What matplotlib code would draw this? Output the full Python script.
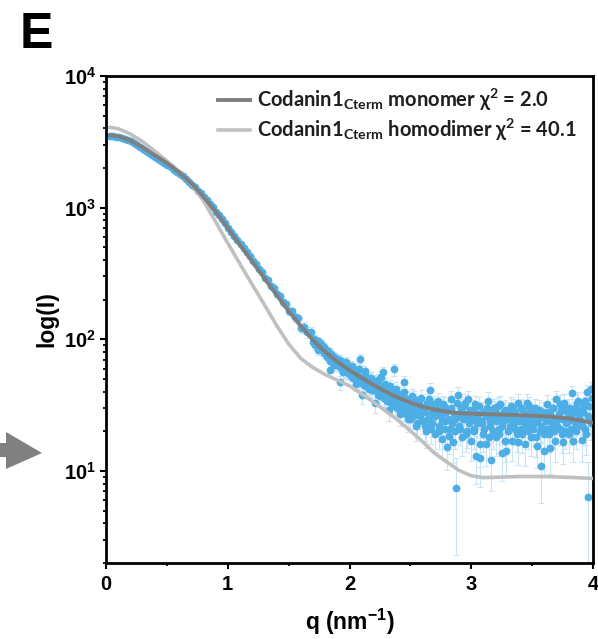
import numpy as np
import matplotlib
matplotlib.use("Agg")
import matplotlib.pyplot as plt
from matplotlib.patches import Polygon
from matplotlib.lines import Line2D
from matplotlib.ticker import LogLocator, MultipleLocator, FuncFormatter, NullFormatter

plt.rcParams['font.family'] = ['Liberation Sans', 'DejaVu Sans']
plt.rcParams['font.weight'] = 'bold'
plt.rcParams['axes.labelweight'] = 'bold'
plt.rcParams['mathtext.default'] = 'regular'

# ---- fitted model curves ----
q_monomer = [0.02, 0.1, 0.2, 0.3, 0.4, 0.5, 0.6, 0.7, 0.8, 0.9,
             1.0, 1.1, 1.2, 1.3, 1.4, 1.5, 1.6, 1.7, 1.8, 1.9,
             2.0, 2.1, 2.2, 2.3, 2.4, 2.5, 2.6, 2.7, 2.8, 2.9,
             3.0, 3.2, 3.4, 3.6, 3.8, 4.0]
I_monomer = [3570, 3483, 3236, 2864, 2506, 2183, 1854, 1535, 1208, 938,
             700, 522, 391, 292, 218, 164, 126, 98.6, 80.4, 67.6,
             58.2, 50.9, 44.9, 39.9, 36.0, 33.0, 30.8, 29.2, 28.2, 27.5,
             27.2, 26.9, 26.5, 26.1, 25.1, 23.2]

q_dimer = [0.02, 0.1, 0.2, 0.3, 0.4, 0.5, 0.6, 0.7, 0.8, 0.9,
           1.0, 1.1, 1.2, 1.3, 1.4, 1.5, 1.6, 1.7, 1.8, 1.9,
           2.0, 2.1, 2.2, 2.3, 2.4, 2.5, 2.6, 2.7, 2.8, 2.9,
           3.0, 3.1, 3.2, 3.4, 3.6, 3.8, 4.0]
I_dimer = [4093, 3981, 3631, 3177, 2692, 2259, 1888, 1514, 1127, 782,
           538, 374, 261, 184, 128, 92.3, 71.6, 61.0, 54.0, 49.0,
           44.3, 38.5, 33.2, 28.4, 24.2, 20.2, 16.7, 13.6, 11.7, 10.1,
           9.2, 8.9, 8.95, 9.08, 9.08, 8.95, 8.77]

# ---- measured scattering profile, low-q part ----
q_low = [0.030, 0.055, 0.080, 0.105, 0.130, 0.155, 0.180, 0.205, 0.230, 0.255,
         0.280, 0.305, 0.330, 0.355, 0.380, 0.405, 0.430, 0.455, 0.480, 0.505,
         0.530, 0.555, 0.580, 0.605, 0.630, 0.655, 0.680, 0.705, 0.730, 0.755,
         0.780, 0.805, 0.830, 0.855, 0.880, 0.905, 0.930, 0.955, 0.980, 1.005,
         1.030, 1.055, 1.080, 1.105, 1.130, 1.155, 1.180, 1.205, 1.230, 1.255,
         1.280, 1.305, 1.330, 1.355, 1.380, 1.405, 1.430, 1.455, 1.480, 1.505,
         1.530, 1.555, 1.580, 1.605, 1.630, 1.655, 1.680]
I_low = [3483, 3499, 3451, 3436, 3381, 3342, 3251, 3192, 3083, 3006,
         2891, 2805, 2692, 2612, 2518, 2421, 2355, 2259, 2193, 2099,
         2028, 1932, 1871, 1786, 1726, 1641, 1578, 1493, 1426, 1343,
         1282, 1199, 1146, 1069, 1012, 933, 877, 813, 762, 703,
         659, 608, 571, 527, 497, 457, 432, 396, 374, 342,
         324, 294, 281, 256, 244, 219, 213, 191, 186, 164,
         163, 147, 144, 122, 125, 113, 113]
err_low = [30, 30, 29, 29, 28, 28, 27, 27, 26, 26,
           25, 25, 24, 24, 23, 23, 22, 22, 21, 20,
           20, 19, 19, 18, 18, 17, 17, 16, 16, 15,
           15, 14, 14, 13, 13, 12, 12, 12, 12, 11,
           11, 11, 10, 10, 10, 10, 10, 10, 10, 10,
           10, 10, 10, 10, 10, 11, 11, 11, 11, 11,
           11, 11, 11, 11, 11, 11, 11]

# ---- measured scattering profile, high-q part (frames A and B) ----
q_high_a = [1.7000, 1.7125, 1.7250, 1.7375, 1.7500, 1.7625, 1.7750, 1.7875,
            1.8000, 1.8125, 1.8250, 1.8375, 1.8500, 1.8625, 1.8750, 1.8875,
            1.9000, 1.9125, 1.9250, 1.9375, 1.9500, 1.9625, 1.9750, 1.9875,
            2.0000, 2.0125, 2.0250, 2.0375, 2.0500, 2.0625, 2.0750, 2.0875,
            2.1000, 2.1125, 2.1250, 2.1375, 2.1500, 2.1625, 2.1750, 2.1875,
            2.2000, 2.2125, 2.2250, 2.2375, 2.2500, 2.2625, 2.2750, 2.2875,
            2.3000, 2.3125, 2.3250, 2.3375, 2.3500, 2.3625, 2.3750, 2.3875,
            2.4000, 2.4125, 2.4250, 2.4375, 2.4500, 2.4625, 2.4750, 2.4875,
            2.5000, 2.5125, 2.5250, 2.5375, 2.5500, 2.5625, 2.5750, 2.5875,
            2.6000, 2.6125, 2.6250, 2.6375, 2.6500, 2.6625, 2.6750, 2.6875,
            2.7000, 2.7125, 2.7250, 2.7375, 2.7500, 2.7625, 2.7750, 2.7875,
            2.8000, 2.8125, 2.8250, 2.8375, 2.8500, 2.8625, 2.8750, 2.8875,
            2.9000, 2.9125, 2.9250, 2.9375, 2.9500, 2.9625, 2.9750, 2.9875,
            3.0000, 3.0125, 3.0250, 3.0375, 3.0500, 3.0625, 3.0750, 3.0875,
            3.1000, 3.1125, 3.1250, 3.1375, 3.1500, 3.1625, 3.1750, 3.1875,
            3.2000, 3.2125, 3.2250, 3.2375, 3.2500, 3.2625, 3.2750, 3.2875,
            3.3000, 3.3125, 3.3250, 3.3375, 3.3500, 3.3625, 3.3750, 3.3875,
            3.4000, 3.4125, 3.4250, 3.4375, 3.4500, 3.4625, 3.4750, 3.4875,
            3.5000, 3.5125, 3.5250, 3.5375, 3.5500, 3.5625, 3.5750, 3.5875,
            3.6000, 3.6125, 3.6250, 3.6375, 3.6500, 3.6625, 3.6750, 3.6875,
            3.7000, 3.7125, 3.7250, 3.7375, 3.7500, 3.7625, 3.7750, 3.7875,
            3.8000, 3.8125, 3.8250, 3.8375, 3.8500, 3.8625, 3.8750, 3.8875,
            3.9000, 3.9125, 3.9250, 3.9375, 3.9500, 3.9625, 3.9750, 3.9875]
I_high_a = [96, 101, 93, 97, 85, 92, 88, 79,
            84, 77, 81, 58, 78, 70, 74, 66,
            71, 63, 47, 60, 66, 58, 64, 55,
            61, 53, 59, 57, 50, 56, 48, 70.5,
            38, 46, 54, 44, 49, 43, 51, 41,
            47, 33, 45, 49, 37, 43, 56, 35,
            42, 38, 29, 41, 36, 59, 31, 39,
            34, 29, 38, 31, 47, 27, 35, 30,
            25, 37, 28, 33, 22, 31, 26, 36,
            24, 29, 20, 33, 27, 41, 23, 30,
            19, 28, 34, 22, 26, 17.5, 31, 24,
            15.1, 29, 21, 35, 16.5, 25, 7.4, 38,
            22, 30, 18, 27, 33, 20, 35, 24,
            17, 29, 21, 13.1, 26, 31, 12.6, 23,
            19, 28, 16, 34, 22, 12.2, 25, 30,
            18, 27, 21, 32, 13.6, 24, 29, 14.3,
            20, 26, 31, 17, 23, 28, 19, 33,
            25, 21, 29, 16, 27, 22, 31, 18,
            26, 23, 30, 15.6, 25, 20, 11.0, 28,
            14.3, 24, 32, 19, 27, 22, 30, 17,
            35, 25, 21, 29, 16.5, 33, 23, 28,
            19, 26, 38.8, 17, 30, 22, 34, 27,
            24, 17.1, 31, 21, 39.5, 6.3, 24, 41.7]
err_high_a = [7.0, 6.9, 6.9, 6.8, 6.8, 6.7, 6.7, 6.6,
              6.6, 6.5, 6.5, 6.4, 6.4, 6.3, 6.3, 6.2,
              6.2, 6.1, 6.1, 6.0, 6.0, 6.0, 5.9, 5.9,
              5.9, 5.8, 5.8, 5.8, 5.7, 5.7, 5.7, 6.2,
              5.6, 5.6, 5.6, 5.5, 5.5, 5.5, 5.5, 5.4,
              5.4, 5.4, 5.4, 5.4, 5.3, 5.3, 5.8, 5.3,
              5.3, 5.3, 5.2, 5.2, 5.2, 5.9, 5.2, 5.2,
              5.2, 5.2, 5.2, 5.1, 5.6, 5.1, 5.1, 5.1,
              5.1, 5.3, 5.0, 5.2, 5.0, 5.3, 5.1, 5.4,
              5.0, 5.2, 5.0, 5.3, 5.1, 5.6, 5.0, 5.2,
              5.0, 5.2, 5.4, 5.1, 5.2, 5.0, 5.3, 5.1,
              5.0, 5.2, 5.1, 5.4, 5.0, 5.2, 5.1, 5.5,
              5.1, 5.3, 5.0, 5.2, 5.4, 5.1, 5.5, 5.2,
              5.0, 5.3, 5.1, 5.2, 5.2, 5.4, 5.1, 5.2,
              5.1, 5.3, 5.0, 5.5, 5.2, 5.2, 5.2, 5.4,
              5.1, 5.3, 5.1, 5.4, 5.2, 5.2, 5.3, 5.1,
              5.2, 5.3, 5.4, 5.1, 5.2, 5.3, 5.1, 5.4,
              5.3, 5.1, 5.4, 5.1, 5.3, 5.2, 5.4, 5.1,
              5.3, 5.2, 5.4, 5.0, 5.3, 5.2, 5.3, 5.4,
              5.1, 5.3, 5.5, 5.2, 5.4, 5.2, 5.4, 5.2,
              5.6, 5.3, 5.2, 5.4, 5.2, 5.5, 5.3, 5.4,
              5.2, 5.4, 5.7, 5.2, 5.5, 5.3, 5.5, 5.4,
              5.4, 5.3, 5.6, 5.3, 5.7, 5.5, 5.4, 5.8]

q_high_b = [1.7063, 1.7188, 1.7313, 1.7438, 1.7563, 1.7688, 1.7813, 1.7938,
            1.8063, 1.8188, 1.8313, 1.8438, 1.8563, 1.8688, 1.8813, 1.8938,
            1.9063, 1.9188, 1.9313, 1.9438, 1.9563, 1.9688, 1.9813, 1.9938,
            2.0063, 2.0188, 2.0313, 2.0438, 2.0563, 2.0688, 2.0813, 2.0938,
            2.1063, 2.1188, 2.1313, 2.1438, 2.1563, 2.1688, 2.1813, 2.1938,
            2.2063, 2.2188, 2.2313, 2.2438, 2.2563, 2.2688, 2.2813, 2.2938,
            2.3063, 2.3188, 2.3313, 2.3438, 2.3563, 2.3688, 2.3813, 2.3938,
            2.4063, 2.4188, 2.4313, 2.4438, 2.4563, 2.4688, 2.4813, 2.4938,
            2.5063, 2.5188, 2.5313, 2.5438, 2.5563, 2.5688, 2.5813, 2.5938,
            2.6063, 2.6188, 2.6313, 2.6438, 2.6563, 2.6688, 2.6813, 2.6938,
            2.7063, 2.7188, 2.7313, 2.7438, 2.7563, 2.7688, 2.7813, 2.7938,
            2.8063, 2.8188, 2.8313, 2.8438, 2.8563, 2.8688, 2.8813, 2.8938,
            2.9063, 2.9188, 2.9313, 2.9438, 2.9563, 2.9688, 2.9813, 2.9938,
            3.0063, 3.0188, 3.0313, 3.0438, 3.0563, 3.0688, 3.0813, 3.0938,
            3.1063, 3.1188, 3.1313, 3.1438, 3.1563, 3.1688, 3.1813, 3.1938,
            3.2063, 3.2188, 3.2313, 3.2438, 3.2563, 3.2688, 3.2813, 3.2938,
            3.3063, 3.3188, 3.3313, 3.3438, 3.3563, 3.3688, 3.3813, 3.3938,
            3.4063, 3.4188, 3.4313, 3.4438, 3.4563, 3.4688, 3.4813, 3.4938,
            3.5063, 3.5188, 3.5313, 3.5438, 3.5563, 3.5688, 3.5813, 3.5938,
            3.6063, 3.6188, 3.6313, 3.6438, 3.6563, 3.6688, 3.6813, 3.6938,
            3.7063, 3.7188, 3.7313, 3.7438, 3.7563, 3.7688, 3.7813, 3.7938,
            3.8063, 3.8188, 3.8313, 3.8438, 3.8563, 3.8688, 3.8813, 3.8938,
            3.9063, 3.9188, 3.9313, 3.9438, 3.9563, 3.9688, 3.9813, 3.9938]
I_high_b = [99, 90, 95, 83, 94, 86, 81, 87,
            80, 74, 79, 69, 75, 64, 72, 68,
            65, 70, 61, 56, 62, 67, 57, 60,
            55, 63, 51, 58, 46, 53, 60, 49,
            52, 45, 57, 47, 42, 50, 46, 44,
            41, 48, 38, 44, 52, 40, 36, 46,
            34, 40, 44, 33, 39, 37, 42, 30,
            36, 27, 33, 40, 29, 35, 25, 32,
            30, 26, 35, 29, 23, 32, 27, 30,
            28, 22, 31, 25, 35, 21, 27, 32,
            26, 30, 20, 27, 24, 32, 21, 28,
            25, 18.5, 30, 23, 27, 20, 33, 26,
            21, 28, 25, 31, 19, 26, 23, 29,
            25, 20, 32, 23, 27, 16, 24, 28,
            21, 26, 30, 18, 24, 27, 20, 29,
            24, 31, 19, 26, 22, 28, 17, 25,
            28, 22, 25, 30, 21, 26, 16.5, 24,
            30, 19, 26, 23, 33, 20, 25, 28,
            21, 27, 18, 24, 29, 22, 26, 19,
            26, 21, 28, 15, 24, 30, 20, 25,
            22, 27, 32, 19, 25, 20, 29, 24,
            30, 21, 27, 24, 20, 33, 25, 29,
            22, 28, 34, 19, 26, 31, 23, 36]
err_high_b = [7.0, 6.9, 6.9, 6.8, 6.8, 6.7, 6.7, 6.6,
              6.5, 6.5, 6.4, 6.4, 6.3, 6.3, 6.2, 6.2,
              6.1, 6.1, 6.0, 6.0, 6.0, 5.9, 5.9, 5.9,
              5.8, 5.8, 5.8, 5.7, 5.7, 5.7, 5.6, 5.6,
              5.6, 5.5, 5.5, 5.5, 5.5, 5.4, 5.4, 5.4,
              5.4, 5.3, 5.3, 5.3, 5.3, 5.2, 5.2, 5.2,
              5.2, 5.3, 5.1, 5.2, 5.3, 5.1, 5.2, 5.0,
              5.2, 5.1, 5.3, 5.0, 5.2, 5.4, 5.1, 5.2,
              5.3, 5.0, 5.2, 5.1, 5.3, 5.2, 5.0, 5.2,
              5.1, 5.3, 5.0, 5.2, 5.4, 5.1, 5.2, 5.3,
              5.2, 5.0, 5.3, 5.1, 5.2, 5.4, 5.1, 5.2,
              5.3, 5.1, 5.2, 5.0, 5.3, 5.2, 5.4, 5.1,
              5.2, 5.3, 5.1, 5.2, 5.0, 5.3, 5.2, 5.4,
              5.1, 5.2, 5.4, 5.1, 5.3, 5.2, 5.1, 5.3,
              5.2, 5.3, 5.1, 5.4, 5.2, 5.1, 5.3, 5.2,
              5.3, 5.2, 5.4, 5.1, 5.3, 5.2, 5.4, 5.2,
              5.2, 5.4, 5.3, 5.1, 5.3, 5.2, 5.4, 5.3,
              5.3, 5.2, 5.4, 5.3, 5.1, 5.4, 5.2, 5.3,
              5.4, 5.2, 5.3, 5.1, 5.4, 5.3, 5.2, 5.4,
              5.3, 5.4, 5.2, 5.5, 5.3, 5.2, 5.4, 5.3,
              5.4, 5.3, 5.5, 5.2, 5.4, 5.3, 5.5, 5.4,
              5.5, 5.3, 5.4, 5.6, 5.3, 5.5, 5.4, 5.6,
              5.4, 5.6, 5.5, 5.7, 5.5, 5.6, 5.8, 5.6]

label_monomer = 'Codanin1$_{Cterm}$ monomer χ$^{2}$ = 2.0'
label_dimer = 'Codanin1$_{Cterm}$ homodimer χ$^{2}$ = 40.1'

W, H = 598, 639
fig = plt.figure(figsize=(W / 100, H / 100), dpi=100)
ax = fig.add_axes([106 / W, 1 - 563 / H, 487 / W, 487 / H])

q_exp = np.array(q_low + q_high_a + q_high_b)
I_exp = np.array(I_low + I_high_a + I_high_b)
err_exp = np.array(err_low + err_high_a + err_high_b)

ax.errorbar(q_exp, I_exp, yerr=err_exp, fmt='none', ecolor='#c9e4f6',
            elinewidth=0.8, capsize=2.2, capthick=0.8, zorder=1)
ax.plot(q_exp, I_exp, 'o', ms=5.6, color='#4daee6', mec='none', zorder=2)
ax.plot(q_dimer, I_dimer, color='#c0c0c0', lw=2.6, solid_capstyle='butt', zorder=3)
ax.plot(q_monomer, I_monomer, color='#7f7f7f', lw=2.8, solid_capstyle='butt', zorder=4)

ax.set_yscale('log')
ax.set_xlim(0, 4)
ax.set_ylim(2, 1e4)

ax.yaxis.set_major_locator(LogLocator(base=10, numticks=10))
ax.yaxis.set_minor_locator(LogLocator(base=10, subs=np.arange(2, 10), numticks=20))
ax.yaxis.set_major_formatter(FuncFormatter(lambda v, p: f'$10^{{{int(round(np.log10(v)))}}}$'))
ax.yaxis.set_minor_formatter(NullFormatter())
ax.xaxis.set_major_locator(MultipleLocator(1))
ax.xaxis.set_minor_locator(MultipleLocator(0.5))
ax.xaxis.set_major_formatter(FuncFormatter(lambda v, p: f'{int(round(v))}'))

ax.tick_params(which='both', direction='out', top=False, right=False, color='black')
ax.tick_params(which='major', length=4, width=1.5, labelsize=14.5, pad=3)
ax.tick_params(axis='x', which='major', pad=5)
ax.tick_params(which='minor', length=2.2, width=1.3)
for s in ax.spines.values():
    s.set_linewidth(2.0)

ax.set_xlabel('q (nm$^{-1}$)', fontsize=16.5, fontweight='bold', labelpad=9)
ax.set_ylabel('log(I)', fontsize=16.5, fontweight='bold', labelpad=4)

handles = [Line2D([], [], color='#7f7f7f', lw=2.8), Line2D([], [], color='#c0c0c0', lw=2.6)]
ax.legend(handles, [label_monomer, label_dimer], loc='upper left',
          bbox_to_anchor=((218 - 106) / 487, 1 - (87 - 76) / 487),
          frameon=False, borderpad=0, borderaxespad=0,
          handlelength=1.6, handletextpad=0.35, labelspacing=0.2,
          prop=dict(family=['Lato', 'DejaVu Sans'], weight='bold', size=14.5),
          labelcolor='#1e1e1e')

# panel letter
fig.text(20 / W, 1 - 48 / H, 'E', fontsize=36, fontweight='bold', ha='left', va='baseline')

# gray pointer arrow at the left edge
arrow_px = [(0, 443), (6, 443), (6, 432), (42, 453), (6, 469), (6, 457), (0, 457)]
fig.patches.append(Polygon([(x / W, 1 - y / H) for x, y in arrow_px], closed=True,
                           transform=fig.transFigure, facecolor='#808080', edgecolor='none'))

fig.savefig('out.png', dpi=100)
